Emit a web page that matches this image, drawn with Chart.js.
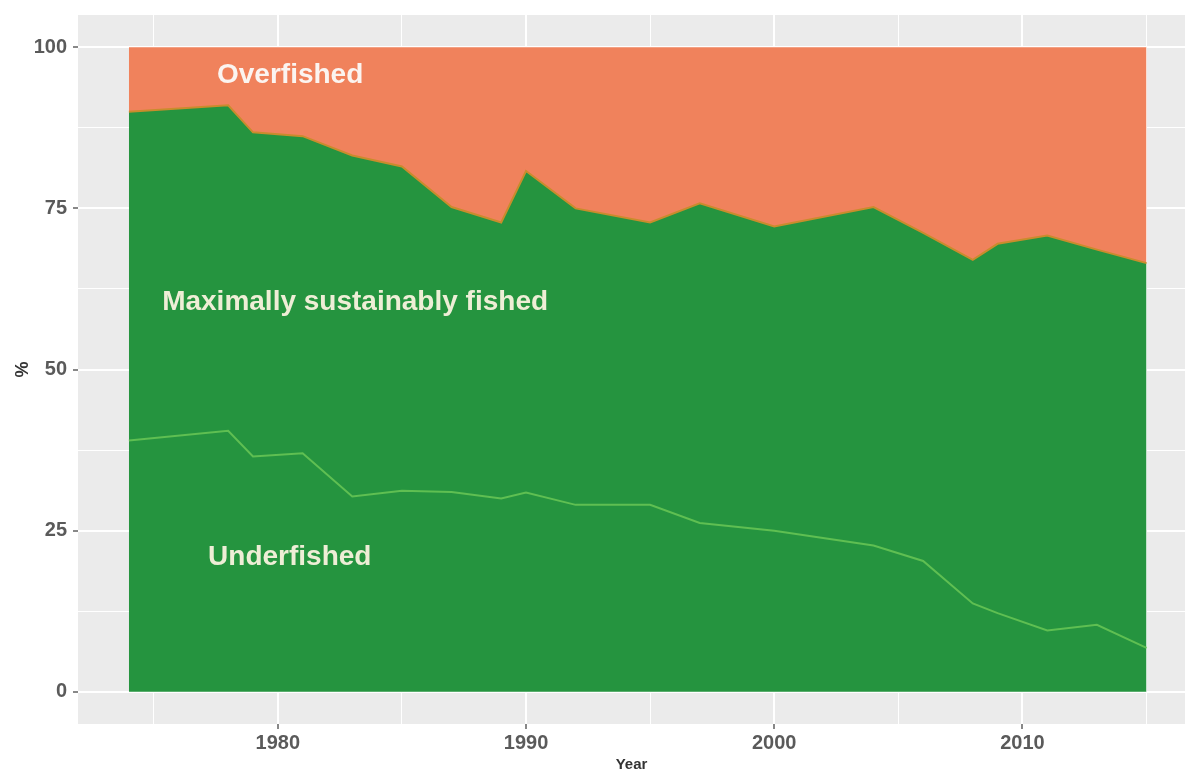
<!DOCTYPE html>
<html>
<head>
<meta charset="utf-8">
<script src="https://cdn.jsdelivr.net/npm/chart.js@4"></script>
<style>
  html, body { margin: 0; padding: 0; background: #fff; overflow: hidden; }
</style>
</head>
<body>
<canvas id="chart" width="1185" height="776"></canvas>
<script>
// years where the series change direction
const years = [1974, 1978, 1979, 1981, 1983, 1985, 1987, 1989, 1990, 1992,
               1995, 1997, 2000, 2004, 2006, 2008, 2009, 2011, 2013, 2015];

// % of stocks
const underfished   = [39.0, 40.5, 36.5, 37.0, 30.3, 31.2, 31.0, 30.0, 30.9, 29.0,
                       29.0, 26.2, 25.0, 22.7, 20.3, 13.7, 12.2, 9.5, 10.4, 6.8];
const maxSustainable = [51.0, 50.5, 50.3, 49.2, 52.9, 50.3, 44.2, 42.8, 49.9, 46.0,
                       43.8, 49.6, 47.2, 52.5, 50.9, 53.3, 57.3, 61.3, 58.2, 59.7];
const overfished    = [10.0, 9.0, 13.2, 13.8, 16.8, 18.5, 24.8, 27.2, 19.2, 25.0,
                       27.2, 24.2, 27.8, 24.8, 28.8, 33.0, 30.5, 29.2, 31.4, 33.5];

const xTicks = [1975, 1980, 1985, 1990, 1995, 2000, 2005, 2010, 2015];
const yTicks = [0, 12.5, 25, 37.5, 50, 62.5, 75, 87.5, 100];

// text placed inside the areas (year, % at baseline)
const areaLabels = [
  { text: "Overfished", x: 1977.55, y: 94.4, color: "#fbf4f0" },
  { text: "Maximally sustainably fished", x: 1975.34, y: 59.2, color: "#eeeed6" },
  { text: "Underfished", x: 1977.19, y: 19.6, color: "#eeeed6" }
];

const GREEN = "#25943f";
const ORANGE = "#f0825c";

const toPoints = (vals) => years.map((yr, i) => ({ x: yr, y: vals[i] }));

const panelPlugin = {
  id: "panel",
  beforeDraw(chart) {
    const { ctx, chartArea: a } = chart;
    ctx.save();
    ctx.fillStyle = "#ebebeb";
    ctx.fillRect(a.left, a.top, a.right - a.left, a.bottom - a.top);
    ctx.restore();
  },
  afterDatasetsDraw(chart) {
    const { ctx, scales } = chart;
    ctx.save();
    ctx.font = "bold 28px 'Liberation Sans', Arial, sans-serif";
    ctx.textBaseline = "alphabetic";
    ctx.textAlign = "left";
    areaLabels.forEach(l => {
      ctx.fillStyle = l.color;
      ctx.fillText(l.text, scales.x.getPixelForValue(l.x), scales.y.getPixelForValue(l.y));
    });
    ctx.restore();
  }
};

const isMajor = (v, step) => Math.abs(v / step - Math.round(v / step)) < 1e-6;

new Chart(document.getElementById("chart"), {
  type: "line",
  data: {
    datasets: [
      {
        label: "Underfished",
        data: toPoints(underfished),
        fill: "origin",
        backgroundColor: GREEN,
        borderColor: "#5fbf52",
        borderWidth: 2
      },
      {
        label: "Maximally sustainably fished",
        data: toPoints(maxSustainable),
        fill: "-1",
        backgroundColor: GREEN,
        borderColor: "#c98c2c",
        borderWidth: 2
      },
      {
        label: "Overfished",
        data: toPoints(overfished),
        fill: "-1",
        backgroundColor: ORANGE,
        borderWidth: 0
      }
    ]
  },
  options: {
    responsive: false,
    animation: false,
    devicePixelRatio: 1,
    elements: { point: { radius: 0 }, line: { tension: 0 } },
    layout: { padding: { top: 15, right: 0, left: 0, bottom: 0 } },
    plugins: { legend: { display: false }, tooltip: { enabled: false } },
    scales: {
      x: {
        type: "linear",
        min: 1971.95,
        max: 2016.55,
        afterBuildTicks: (s) => { s.ticks = xTicks.map(v => ({ value: v })); },
        afterFit: (s) => { s.height = 52; s.paddingLeft = 0; s.paddingRight = 0; },
        border: { display: false },
        grid: {
          color: "#ffffff",
          lineWidth: (c) => isMajor(c.tick.value, 10) ? 2 : 1,
          tickColor: (c) => isMajor(c.tick.value, 10) ? "#888" : "rgba(0,0,0,0)",
          tickLength: 5
        },
        ticks: {
          autoSkip: false,
          maxRotation: 0,
          padding: 2,
          color: "#5a5a5a",
          font: { family: "'Liberation Sans', Arial, sans-serif", size: 20, weight: "bold" },
          callback: (v) => isMajor(v, 10) ? String(v) : ""
        },
        title: {
          display: true,
          text: "Year",
          color: "#333",
          padding: { top: 0, bottom: 2 },
          font: { family: "'Liberation Sans', Arial, sans-serif", size: 15, weight: "bold" }
        }
      },
      y: {
        stacked: true,
        min: -5,
        max: 105,
        afterBuildTicks: (s) => { s.ticks = yTicks.map(v => ({ value: v })); },
        afterFit: (s) => { s.width = 78; s.paddingTop = 0; s.paddingBottom = 0; },
        border: { display: false },
        grid: {
          color: "#ffffff",
          lineWidth: (c) => isMajor(c.tick.value, 25) ? 2 : 1,
          tickColor: (c) => isMajor(c.tick.value, 25) ? "#888" : "rgba(0,0,0,0)",
          tickLength: 5
        },
        ticks: {
          autoSkip: false,
          padding: 6,
          color: "#5a5a5a",
          font: { family: "'Liberation Sans', Arial, sans-serif", size: 20, weight: "bold" },
          callback: (v) => isMajor(v, 25) ? String(v) : ""
        },
        title: {
          display: true,
          text: "%",
          color: "#333",
          padding: { top: 12, bottom: 0 },
          font: { family: "'Liberation Sans', Arial, sans-serif", size: 18, weight: "bold" }
        }
      }
    }
  },
  plugins: [panelPlugin]
});
</script>
</body>
</html>
